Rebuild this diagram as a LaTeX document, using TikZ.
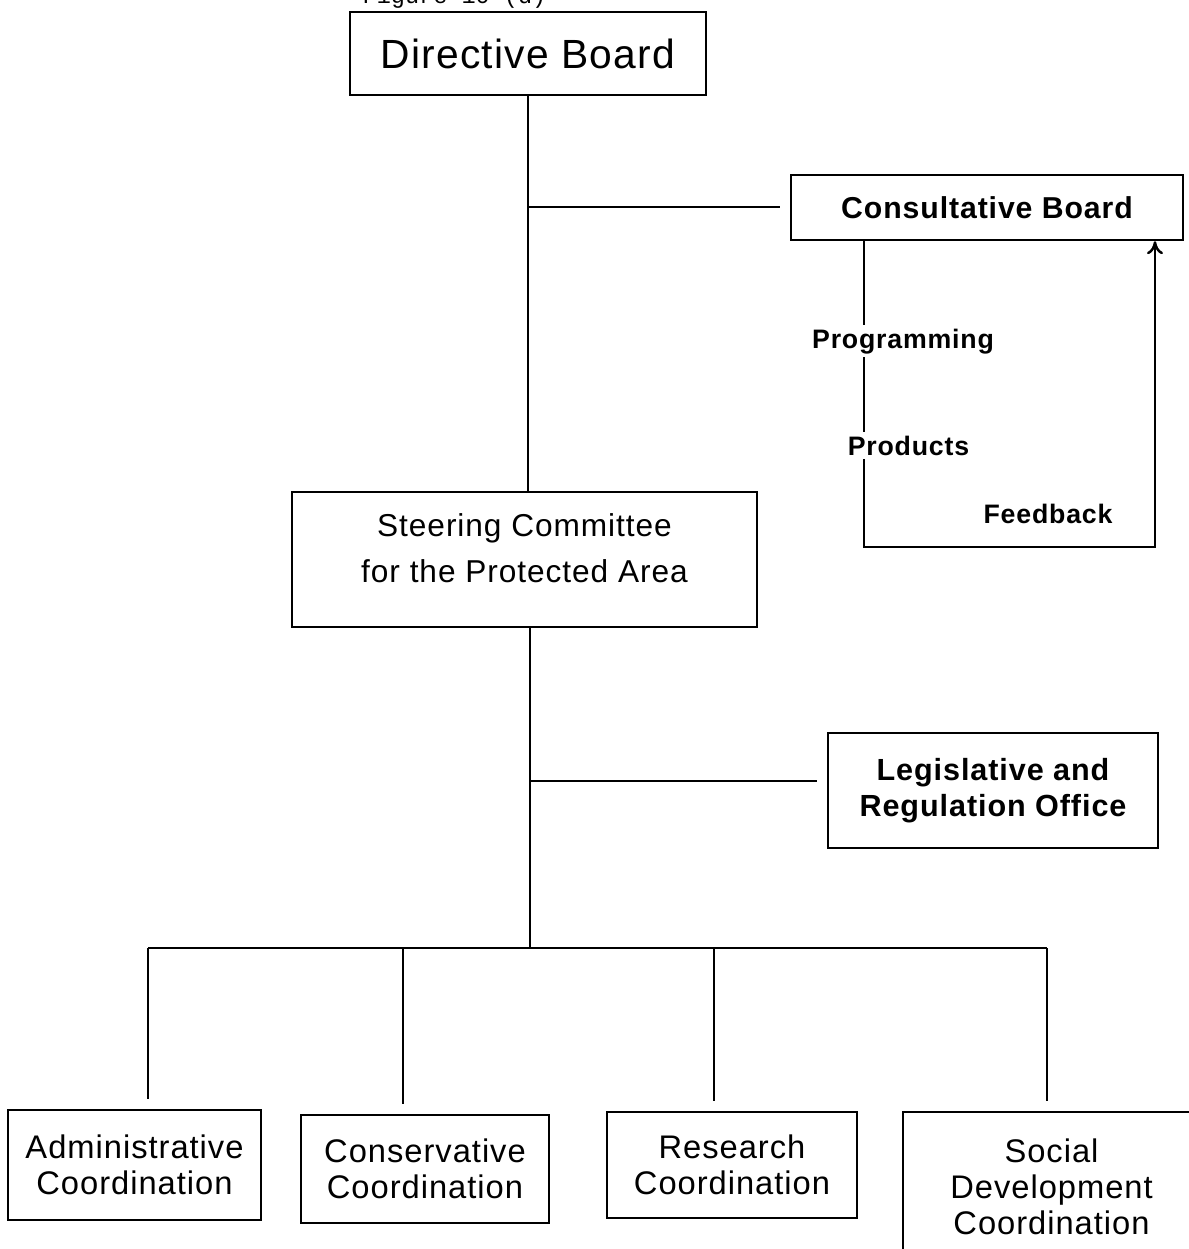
\documentclass[tikz,border=0pt]{standalone}
\usepackage{fontspec}
\setmainfont{Liberation Sans}[LetterSpace=3]
\newfontfamily\figfont{Liberation Mono}
\usetikzlibrary{positioning,arrows.meta}

\tikzset{
  box/.style={draw, line width=0.7pt, inner sep=0, align=center},
  coord/.style={font=\fontsize{9.3}{10.2}\selectfont},
  wire/.style={line width=0.7pt},
  link/.style={line width=0.7pt, shorten >=1mm},
  tag/.style={font=\bfseries\fontsize{7.6}{9}\selectfont, fill=white, inner sep=1pt, anchor=base},
}

\begin{document}
\begin{tikzpicture}
    \useasboundingbox (0,0) rectangle (11.88,-12.49);

    % caption, cut off at the top
    \node[anchor=base west, inner sep=0, font=\figfont\fontsize{6.7}{8}\selectfont] (figlabel) at (3.62,-0.035) {Figure 10 (d)};

    % boards
    \node[box, minimum width=3.56cm, minimum height=0.83cm, font=\fontsize{11.6}{14}\selectfont] (dir) at (5.28,-0.535) {Directive Board};
    \node[box, minimum width=3.92cm, minimum height=0.65cm, font=\bfseries\fontsize{8.6}{10}\selectfont] (cons) at (9.87,-2.075) {Consultative Board};

    % steering committee
    \node[box, minimum width=4.65cm, minimum height=1.35cm] (steer) at (5.245,-5.595) {};
    \node[align=center, inner sep=0, font=\fontsize{9}{13}\selectfont] (steertxt) at (5.245,-5.48) {Steering Committee\\for the Protected Area};

    \node[box, minimum width=3.30cm, minimum height=1.15cm, font=\bfseries\fontsize{8.7}{10.3}\selectfont] (leg) at (9.93,-7.905) {Legislative and\\Regulation Office};

    % coordinations
    \node[box, coord, minimum width=2.53cm, minimum height=1.10cm] (adm) at (1.345,-11.65) {Administrative\\Coordination};
    \node[box, coord, minimum width=2.48cm, minimum height=1.08cm] (cnsv) at (4.25,-11.69) {Conservative\\Coordination};
    \node[box, coord, minimum width=2.50cm, minimum height=1.06cm] (res) at (7.32,-11.65) {Research\\Coordination};
    \node[box, coord, minimum width=2.97cm, minimum height=1.50cm] (soc) at (10.515,-11.87) {Social\\Development\\Coordination};

    % trunk
    \draw[wire] (dir.south) -- (dir.south |- steer.north);
    \coordinate (j1) at (5.28,-2.07);
    \draw[link] (j1) -- (j1 -| cons.west);

    \coordinate (t) at (5.30,-9.48);
    \draw[wire] (t |- steer.south) -- (t);
    \coordinate (j2) at (5.30,-7.81);
    \draw[link] (j2) -- (j2 -| leg.west);

    % bus
    \coordinate (b1) at (1.48,-9.48);
    \coordinate (b2) at (4.03,-9.48);
    \coordinate (b3) at (7.14,-9.48);
    \coordinate (b4) at (10.47,-9.48);
    \draw[wire] (b1) -- (b4);
    \foreach \b/\n in {b1/adm, b2/cnsv, b3/res, b4/soc} \draw[link] (\b) -- (\b |- \n.north);

    % feedback loop
    \coordinate (f1) at (8.64,-5.47);
    \coordinate (f2) at (11.55,-5.47);
    \draw[wire, -{To[length=1.3mm, width=1.6mm]}] (f1 |- cons.south) -- (f1) -- (f2) -- (f2 |- cons.south);

    \node[tag] (prog) at (9.03,-3.48) {Programming};
    \node[tag] (prod) at (9.085,-4.55) {Products};
    \node[tag] (fb) at (10.48,-5.23) {Feedback};
\end{tikzpicture}
\end{document}
